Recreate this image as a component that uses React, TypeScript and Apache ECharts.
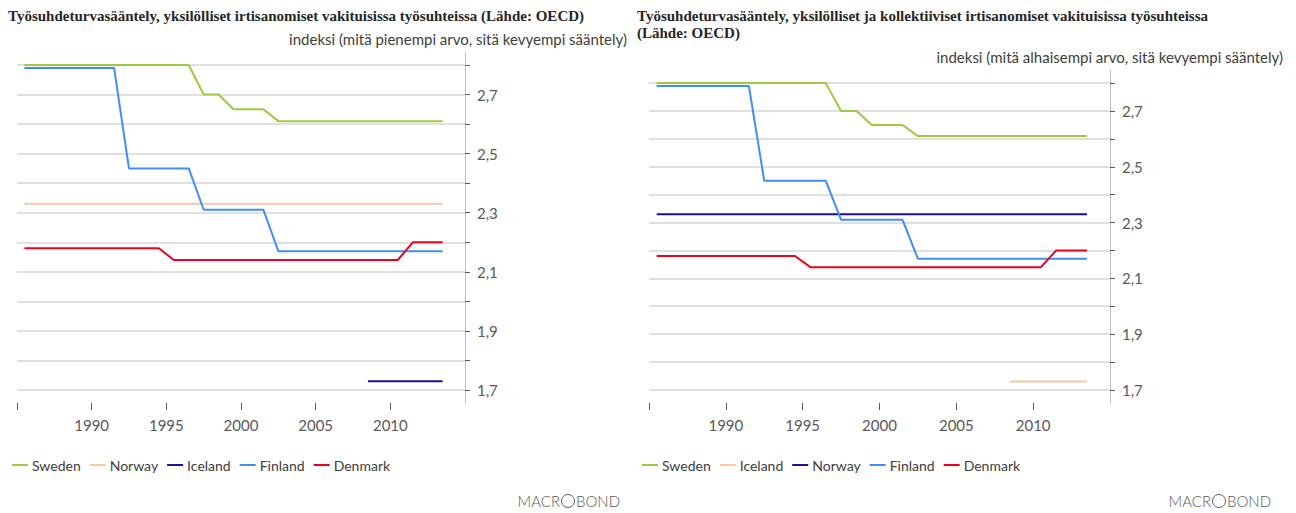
import React, { useEffect, useRef } from "react";
import * as echarts from "echarts";

// ---------- data ----------
const years = [
  1985, 1986, 1987, 1988, 1989, 1990, 1991, 1992, 1993, 1994, 1995, 1996, 1997, 1998, 1999,
  2000, 2001, 2002, 2003, 2004, 2005, 2006, 2007, 2008, 2009, 2010, 2011, 2012, 2013,
];

// Left chart: individual dismissals
const swedenInd = [
  2.8, 2.8, 2.8, 2.8, 2.8, 2.8, 2.8, 2.8, 2.8, 2.8, 2.8, 2.8, 2.7, 2.7, 2.65,
  2.65, 2.65, 2.61, 2.61, 2.61, 2.61, 2.61, 2.61, 2.61, 2.61, 2.61, 2.61, 2.61, 2.61,
];
const norwayInd = [
  2.33, 2.33, 2.33, 2.33, 2.33, 2.33, 2.33, 2.33, 2.33, 2.33, 2.33, 2.33, 2.33, 2.33, 2.33,
  2.33, 2.33, 2.33, 2.33, 2.33, 2.33, 2.33, 2.33, 2.33, 2.33, 2.33, 2.33, 2.33, 2.33,
];
const icelandInd = [
  null, null, null, null, null, null, null, null, null, null, null, null, null, null, null,
  null, null, null, null, null, null, null, null, 1.73, 1.73, 1.73, 1.73, 1.73, 1.73,
];
const finlandInd = [
  2.79, 2.79, 2.79, 2.79, 2.79, 2.79, 2.79, 2.45, 2.45, 2.45, 2.45, 2.45, 2.31, 2.31, 2.31,
  2.31, 2.31, 2.17, 2.17, 2.17, 2.17, 2.17, 2.17, 2.17, 2.17, 2.17, 2.17, 2.17, 2.17,
];
const denmarkInd = [
  2.18, 2.18, 2.18, 2.18, 2.18, 2.18, 2.18, 2.18, 2.18, 2.18, 2.14, 2.14, 2.14, 2.14, 2.14,
  2.14, 2.14, 2.14, 2.14, 2.14, 2.14, 2.14, 2.14, 2.14, 2.14, 2.14, 2.2, 2.2, 2.2,
];

// Right chart: individual and collective dismissals
const swedenCol = [
  2.8, 2.8, 2.8, 2.8, 2.8, 2.8, 2.8, 2.8, 2.8, 2.8, 2.8, 2.8, 2.7, 2.7, 2.65,
  2.65, 2.65, 2.61, 2.61, 2.61, 2.61, 2.61, 2.61, 2.61, 2.61, 2.61, 2.61, 2.61, 2.61,
];
const icelandCol = [
  null, null, null, null, null, null, null, null, null, null, null, null, null, null, null,
  null, null, null, null, null, null, null, null, 1.73, 1.73, 1.73, 1.73, 1.73, 1.73,
];
const norwayCol = [
  2.33, 2.33, 2.33, 2.33, 2.33, 2.33, 2.33, 2.33, 2.33, 2.33, 2.33, 2.33, 2.33, 2.33, 2.33,
  2.33, 2.33, 2.33, 2.33, 2.33, 2.33, 2.33, 2.33, 2.33, 2.33, 2.33, 2.33, 2.33, 2.33,
];
const finlandCol = [
  2.79, 2.79, 2.79, 2.79, 2.79, 2.79, 2.79, 2.45, 2.45, 2.45, 2.45, 2.45, 2.31, 2.31, 2.31,
  2.31, 2.31, 2.17, 2.17, 2.17, 2.17, 2.17, 2.17, 2.17, 2.17, 2.17, 2.17, 2.17, 2.17,
];
const denmarkCol = [
  2.18, 2.18, 2.18, 2.18, 2.18, 2.18, 2.18, 2.18, 2.18, 2.18, 2.14, 2.14, 2.14, 2.14, 2.14,
  2.14, 2.14, 2.14, 2.14, 2.14, 2.14, 2.14, 2.14, 2.14, 2.14, 2.14, 2.2, 2.2, 2.2,
];

const leftNames = ["Sweden", "Norway", "Iceland", "Finland", "Denmark"];
const rightNames = ["Sweden", "Iceland", "Norway", "Finland", "Denmark"];

const yTickValues = [1.7, 1.8, 1.9, 2.0, 2.1, 2.2, 2.3, 2.4, 2.5, 2.6, 2.7, 2.8];
const yLabelValues = [1.7, 1.9, 2.1, 2.3, 2.5, 2.7];
const xTickValues = [1985, 1990, 1995, 2000, 2005, 2010];
const xLabelValues = [1990, 1995, 2000, 2005, 2010];

const titleLeft =
  "Työsuhdeturvasääntely, yksilölliset irtisanomiset vakituisissa työsuhteissa (Lähde: OECD)";
const titleRight =
  "Työsuhdeturvasääntely, yksilölliset ja kollektiiviset irtisanomiset vakituisissa työsuhteissa\n(Lähde: OECD)";
const subLeft = "indeksi (mitä pienempi arvo, sitä kevyempi sääntely)";
const subRight = "indeksi (mitä alhaisempi arvo, sitä kevyempi sääntely)";

// ---------- styles ----------
const COLORS = ["#9BCB3E", "#F8C5A6", "#1C0E9A", "#3F8EF6", "#F0001E"];
const SANS = 'Lato, "DejaVu Sans Condensed", sans-serif';
const SERIF = '"Liberation Serif", "DejaVu Serif", serif';
const GRAY = "#595959";

const toPairs = (vals: (number | null)[]) =>
  years.map((y, i) => [y + 0.5, vals[i] === null ? null : vals[i]]);

const fmt = (v: number) => v.toFixed(1).replace(".", ",");

function makeY(gridIndex: number, min: number, max: number) {
  return {
    type: "value",
    gridIndex,
    position: "right",
    min,
    max,
    splitNumber: 12,
    axisLine: { show: true, lineStyle: { color: "#c0c0c0", width: 1 } },
    axisTick: {
      show: true,
      length: 5,
      customValues: yTickValues,
      lineStyle: { color: GRAY, width: 1 },
    },
    axisLabel: {
      customValues: yLabelValues,
      formatter: (v: number) => fmt(v),
      color: GRAY,
      fontFamily: SANS,
      fontSize: 15,
      margin: 12,
    },
    splitLine: { show: true, lineStyle: { color: "#d6d6d6", width: 1.5 } },
  };
}

function makeX(gridIndex: number) {
  return {
    type: "value",
    gridIndex,
    min: 1985,
    max: 2015,
    interval: 5,
    axisLine: { show: false },
    axisTick: {
      show: true,
      length: 7,
      customValues: xTickValues,
      lineStyle: { color: GRAY, width: 1 },
    },
    axisLabel: {
      customValues: xLabelValues,
      color: GRAY,
      fontFamily: SANS,
      fontSize: 15,
      margin: 14,
      formatter: (v: number) => String(v),
    },
    splitLine: { show: false },
  };
}

function makeLegend(left: number, names: string[]) {
  return {
    left,
    top: 458,
    orient: "horizontal",
    icon: "rect",
    itemWidth: 16,
    itemHeight: 2,
    itemGap: 9,
    padding: 0,
    selectedMode: false,
    data: names.map((n, i) => ({
      name: n,
      itemStyle: { color: COLORS[i] },
      lineStyle: { color: COLORS[i] },
    })),
    textStyle: { color: "#404040", fontFamily: SANS, fontSize: 14, padding: [0, 0, 0, -1] },
  };
}

function logo(cx: number, y: number) {
  const st = { fill: "#5a5a5a", font: "300 15px " + SANS, textVerticalAlign: "middle" };
  return {
    type: "group",
    x: cx,
    y,
    children: [
      { type: "text", x: -8, y: 0, style: { ...st, text: "MACR", textAlign: "right" } },
      {
        type: "circle",
        shape: { cx: 0, cy: 0, r: 6.5 },
        style: { fill: "none", stroke: "#5a5a5a", lineWidth: 1 },
      },
      { type: "text", x: 8, y: 0, style: { ...st, text: "BOND", textAlign: "left" } },
    ],
  };
}

export default function App() {
  const ref = useRef<HTMLDivElement>(null);

  useEffect(() => {
    if (!ref.current) return;
    const chart = echarts.init(ref.current, null, { renderer: "svg" });

    const leftData = [swedenInd, norwayInd, icelandInd, finlandInd, denmarkInd];
    const rightData = [swedenCol, icelandCol, norwayCol, finlandCol, denmarkCol];

    const series: any[] = [];
    leftNames.forEach((n, i) =>
      series.push({
        type: "line",
        name: n,
        xAxisIndex: 0,
        yAxisIndex: 0,
        data: toPairs(leftData[i]),
        showSymbol: false,
        symbol: "none",
        connectNulls: false,
        lineStyle: { color: COLORS[i], width: 2 },
        itemStyle: { color: COLORS[i] },
        z: 3 + (i === 4 ? 1 : 0),
      })
    );
    rightNames.forEach((n, i) =>
      series.push({
        type: "line",
        name: n,
        xAxisIndex: 1,
        yAxisIndex: 1,
        data: toPairs(rightData[i]),
        showSymbol: false,
        symbol: "none",
        connectNulls: false,
        lineStyle: { color: COLORS[i], width: 2 },
        itemStyle: { color: COLORS[i] },
        z: 3 + (i === 4 ? 1 : 0),
      })
    );

    const titleStyle = {
      fontFamily: SERIF,
      fontWeight: "bold",
      fontSize: 15,
      color: "#262626",
      lineHeight: 17,
    };

    chart.setOption({
      animation: false,
      backgroundColor: "#ffffff",
      title: [
        { text: titleLeft, left: 8, top: 7, padding: 0, textStyle: titleStyle },
        { text: titleRight, left: 637, top: 7, padding: 0, textStyle: titleStyle },
      ],
      grid: [
        { left: 17, top: 52, width: 448, height: 351 },
        { left: 649, top: 70, width: 461, height: 333 },
      ],
      xAxis: [makeX(0), makeX(1)],
      yAxis: [makeY(0, 1.656, 2.844), makeY(1, 1.653, 2.847)],
      legend: [makeLegend(12, leftNames), makeLegend(642, rightNames)],
      graphic: [
        {
          type: "text",
          x: 627,
          y: 39,
          style: {
            text: subLeft,
            fill: "#404040",
            font: "15px " + SANS,
            textAlign: "right",
            textVerticalAlign: "middle",
          },
        },
        {
          type: "text",
          x: 1283,
          y: 57,
          style: {
            text: subRight,
            fill: "#404040",
            font: "15px " + SANS,
            textAlign: "right",
            textVerticalAlign: "middle",
          },
        },
        logo(568, 501),
        logo(1219, 501),
      ],
      series,
    });

    return () => chart.dispose();
  }, []);

  return (
    <div
      ref={ref}
      style={{ position: "fixed", left: 0, top: 0, width: 1296, height: 513, background: "#fff" }}
    />
  );
}
